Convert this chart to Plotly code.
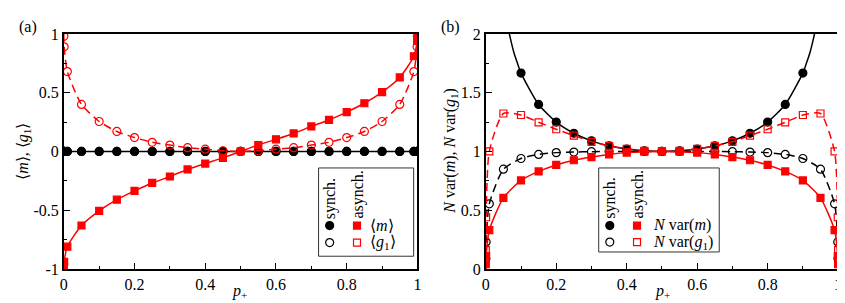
import plotly.graph_objects as go

# ---------------- data ----------------
p = [0.0001, 0.001, 0.01, 0.05, 0.1, 0.15, 0.2, 0.25, 0.3, 0.35, 0.4, 0.45, 0.5,
     0.55, 0.6, 0.65, 0.7, 0.75, 0.8, 0.85, 0.9, 0.95, 0.99, 0.999, 0.9999]
p_ends = [0.0, 1.0]

# panel (a)
m_sync = [0.0] * 25
g1_sync = [0.0] * 25
m_async = [-0.98, -0.94, -0.81, -0.63, -0.505, -0.41, -0.335, -0.268, -0.213, -0.153, -0.103, -0.055, 0.0,
           0.055, 0.103, 0.153, 0.213, 0.268, 0.335, 0.41, 0.505, 0.63, 0.81, 0.94, 0.98]
m_async_ends = [-1.0, 1.0]
g1_async = [0.98, 0.89, 0.68, 0.40, 0.255, 0.17, 0.118, 0.078, 0.054, 0.032, 0.019, 0.006, 0.0,
            0.006, 0.019, 0.032, 0.054, 0.078, 0.118, 0.17, 0.255, 0.40, 0.68, 0.89, 0.98]
g1_async_ends = [1.0, 1.0]
sync_ends = [0.0, 0.0]

# panel (b)
varm_sync = [None, None, None, None, 1.667, 1.40, 1.25, 1.155, 1.09, 1.048, 1.02, 1.005, 1.0,
             1.005, 1.02, 1.048, 1.09, 1.155, 1.25, 1.40, 1.667, None, None, None, None]
# theory curve for synch. N var(m) (leaves the frame near p+ = 0.07 and 0.93)
p_curve_sync = [0.04, 0.05, 0.06, 0.07, 0.08, 0.09, 0.1, 0.15, 0.2, 0.25, 0.3, 0.35, 0.4, 0.45, 0.5,
                0.55, 0.6, 0.65, 0.7, 0.75, 0.8, 0.85, 0.9, 0.91, 0.92, 0.93, 0.94, 0.95, 0.96]
varm_sync_curve = [2.55, 2.29, 2.10, 1.96, 1.84, 1.75, 1.667, 1.40, 1.25, 1.155, 1.09, 1.048, 1.02, 1.005, 1.0,
                   1.005, 1.02, 1.048, 1.09, 1.155, 1.25, 1.40, 1.667, 1.75, 1.84, 1.96, 2.10, 2.29, 2.55]
varg1_sync = [0.09, 0.23, 0.554, 0.849, 0.94, 0.975, 0.99, 0.995, 0.998, 1.0, 1.0, 1.0, 1.0,
              1.0, 1.0, 1.0, 0.998, 0.995, 0.99, 0.975, 0.94, 0.849, 0.554, 0.23, 0.09]
varm_async = [0.04, 0.11, 0.33, 0.605, 0.753, 0.83, 0.885, 0.925, 0.952, 0.975, 0.99, 0.998, 1.0,
              0.998, 0.99, 0.975, 0.952, 0.925, 0.885, 0.83, 0.753, 0.605, 0.33, 0.11, 0.04]
varg1_async = [0.16, 0.44, 1.0, 1.323, 1.31, 1.248, 1.189, 1.135, 1.082, 1.047, 1.023, 1.005, 1.0,
               1.005, 1.023, 1.047, 1.082, 1.135, 1.189, 1.248, 1.31, 1.323, 1.0, 0.44, 0.16]
var_ends = [0.0, 0.0]

x_ticks = [0, 0.2, 0.4, 0.6, 0.8, 1]
x_ticktext = ["0", "0.2", "0.4", "0.6", "0.8", "1"]
ya_ticks = [-1, -0.5, 0, 0.5, 1]
ya_ticktext = ["-1", "-0.5", "0", "0.5", "1"]
yb_ticks = [0, 0.5, 1, 1.5, 2]
yb_ticktext = ["0", "0.5", "1", "1.5", "2"]

# ---------------- layout helpers ----------------
W, H = 845, 303
FONT = "Times New Roman, Liberation Serif, serif"
FS = 16
RED = "#ff0000"
BLK = "#000000"
LW = 1.5
DASH = "8px,5px"


def line_xy(vals, ends):
    return [p_ends[0]] + p + [p_ends[1]], [ends[0]] + vals + [ends[1]]


fig = go.Figure()


def add_line(lx, ly, xa, ya, color, dash):
    fig.add_trace(go.Scatter(x=lx, y=ly, mode="lines", xaxis=xa, yaxis=ya,
                             line=dict(color=color, width=LW, dash=dash, shape="spline", smoothing=0.6),
                             hoverinfo="skip", showlegend=False))


def add_markers(vals, xa, ya, color, symbol, size):
    fig.add_trace(go.Scatter(x=p, y=vals, mode="markers", xaxis=xa, yaxis=ya,
                             marker=dict(symbol=symbol, size=size, color=color,
                                         line=dict(color=color, width=1.2)),
                             showlegend=False))


# panel (a)
add_markers(g1_sync, "x", "y", BLK, "circle-open", 8)
add_line(*line_xy(m_sync, sync_ends), "x", "y", BLK, "solid")
add_markers(m_sync, "x", "y", BLK, "circle", 8)
add_line(*line_xy(g1_async, g1_async_ends), "x", "y", RED, DASH)
add_markers(g1_async, "x", "y", RED, "circle-open", 8)
add_line(*line_xy(m_async, m_async_ends), "x", "y", RED, "solid")
add_markers(m_async, "x", "y", RED, "square", 7)

# panel (b)
add_line(p_curve_sync, varm_sync_curve, "x2", "y2", BLK, "solid")
add_markers(varm_sync, "x2", "y2", BLK, "circle", 8)
add_line(*line_xy(varg1_sync, var_ends), "x2", "y2", BLK, DASH)
add_markers(varg1_sync, "x2", "y2", BLK, "circle-open", 8)
add_line(*line_xy(varg1_async, var_ends), "x2", "y2", RED, DASH)
add_markers(varg1_async, "x2", "y2", RED, "square-open", 7)
add_line(*line_xy(varm_async, var_ends), "x2", "y2", RED, "solid")
add_markers(varm_async, "x2", "y2", RED, "square", 7)

# legend swatches drawn on a pixel overlay axis
leg_rows = [
    (320.7, 222.0, "circle", BLK), (348.3, 222.0, "square", RED),
    (320.7, 240.0, "circle-open", BLK), (348.3, 240.0, "square-open", RED),
    (603.5, 222.0, "circle", BLK), (631.0, 222.0, "square", RED),
    (603.5, 239.5, "circle-open", BLK), (631.0, 239.5, "square-open", RED),
]
for (lx, ly, sym, col) in leg_rows:
    fig.add_trace(go.Scatter(x=[lx], y=[ly], mode="markers", xaxis="x3", yaxis="y3",
                             marker=dict(symbol=sym, size=8 if "circle" in sym else 7, color=col,
                                         line=dict(color=col, width=1.2)),
                             hoverinfo="skip", showlegend=False))

axis_common = dict(showline=True, mirror=True, linecolor="black", linewidth=1.5,
                   ticks="inside", ticklen=6, tickwidth=1, tickcolor="black",
                   showgrid=False, zeroline=False,
                   tickfont=dict(family=FONT, size=FS, color="black"))

ytop, ybot = 19, 268
fig.update_layout(
    width=W, height=H, margin=dict(l=0, r=0, t=0, b=0),
    paper_bgcolor="white", plot_bgcolor="rgba(0,0,0,0)",
    showlegend=False,
    font=dict(family=FONT, size=FS, color="black"),
    xaxis=dict(domain=[52.3 / W, 409.3 / W], range=[0, 1], anchor="y",
               tickvals=x_ticks, ticktext=x_ticktext,
               minor=dict(dtick=0.1, ticklen=3, ticks="inside", tickcolor="black"), **axis_common),
    yaxis=dict(domain=[1 - ybot / H, 1 - ytop / H], range=[-1, 1], anchor="x",
               tickvals=ya_ticks, ticktext=ya_ticktext,
               minor=dict(dtick=0.25, ticklen=3, ticks="inside", tickcolor="black"), **axis_common),
    xaxis2=dict(domain=[478.3 / W, 834.0 / W], range=[0, 1], anchor="y2",
                tickvals=x_ticks, ticktext=x_ticktext,
                minor=dict(dtick=0.1, ticklen=3, ticks="inside", tickcolor="black"), **axis_common),
    yaxis2=dict(domain=[1 - ybot / H, 1 - ytop / H], range=[0, 2], anchor="x2",
                tickvals=yb_ticks, ticktext=yb_ticktext,
                minor=dict(dtick=0.25, ticklen=3, ticks="inside", tickcolor="black"), **axis_common),
    xaxis3=dict(domain=[0, 1], range=[0, W], anchor="y3", visible=False, fixedrange=True),
    yaxis3=dict(domain=[0, 1], range=[H, 0], anchor="x3", visible=False, fixedrange=True),
)


def ann(x, y, text, size=FS, angle=0, xanchor="center", yanchor="middle"):
    fig.add_annotation(x=x / W, y=1 - y / H, xref="paper", yref="paper", text=text,
                       showarrow=False, textangle=angle, xanchor=xanchor, yanchor=yanchor,
                       borderpad=0, font=dict(family=FONT, size=size, color="black"))


# panel labels and axis titles
ann(16, 12, "(a)")
ann(443, 12, "(b)")
ann(230, 292, "<i>p</i><sub>+</sub>")
ann(657, 292, "<i>p</i><sub>+</sub>")
ann(12, 143, "⟨<i>m</i>⟩, ⟨<i>g</i><sub>1</sub>⟩", angle=-90)
ann(443, 143, "<i>N</i> var(<i>m</i>), <i>N</i> var(<i>g</i><sub>1</sub>)", angle=-90)

# legend boxes
for (x0, y0, x1, y1) in [(309.5, 161, 405.5, 254.5), (592.3, 161, 714, 250)]:
    fig.add_shape(type="rect", xref="paper", yref="paper", x0=x0 / W, x1=x1 / W,
                  y0=1 - y1 / H, y1=1 - y0 / H, line=dict(color="#333333", width=1))

# legend texts
ann(321, 216, "synch.", angle=-90, yanchor="bottom")
ann(349, 216, "asynch.", angle=-90, yanchor="bottom")
ann(360, 221.5, "⟨<i>m</i>⟩", xanchor="left")
ann(360, 240, "⟨<i>g</i><sub>1</sub>⟩", xanchor="left")
ann(604, 216, "synch.", angle=-90, yanchor="bottom")
ann(631.5, 216, "asynch.", angle=-90, yanchor="bottom")
ann(646, 221.5, "<i>N</i> var(<i>m</i>)", xanchor="left")
ann(646, 239.5, "<i>N</i> var(<i>g</i><sub>1</sub>)", xanchor="left")

fig.write_html("out.html")
